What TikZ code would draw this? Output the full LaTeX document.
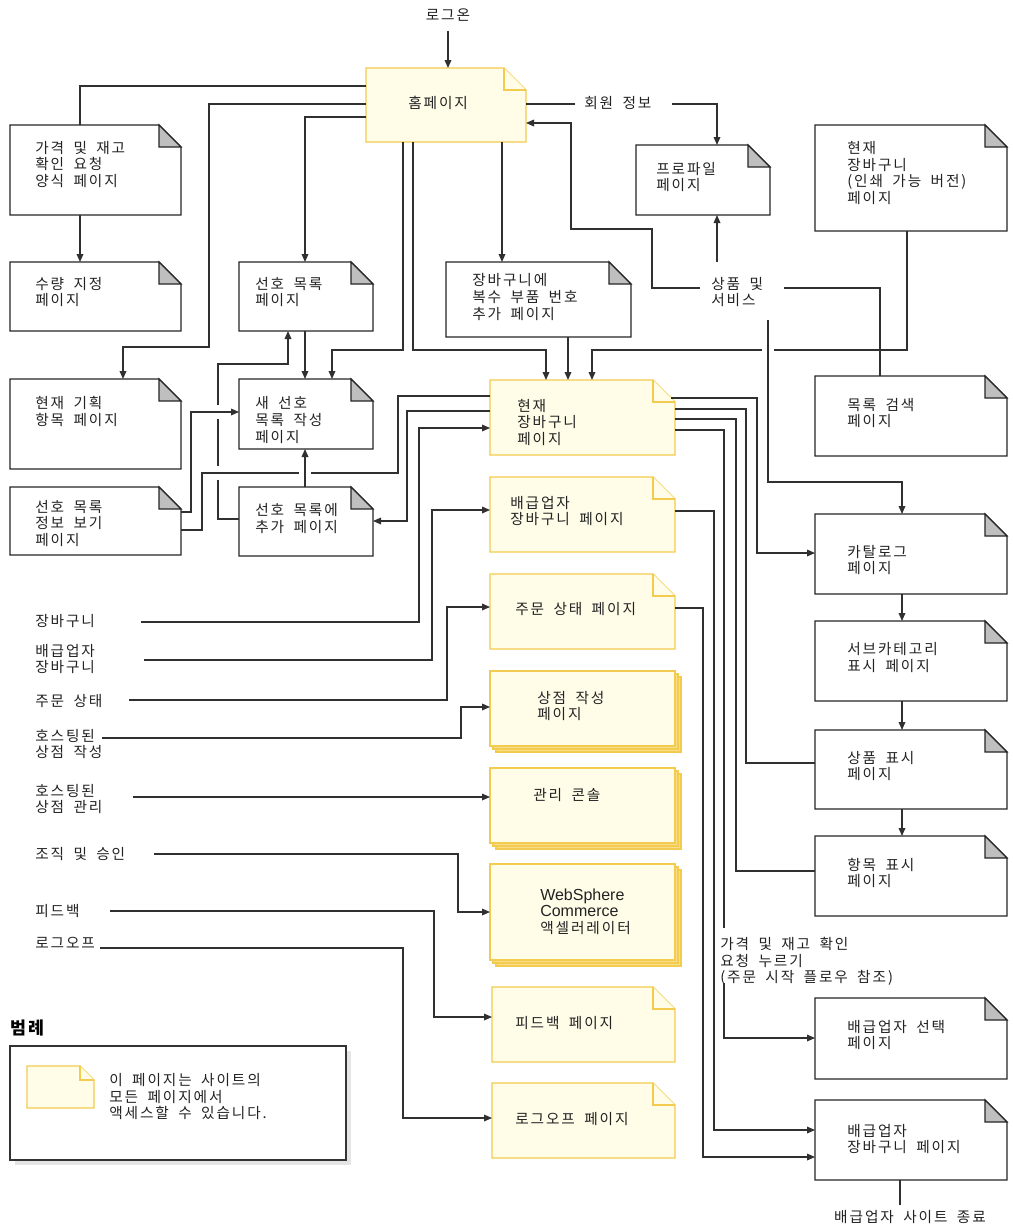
\documentclass[tikz,border=0pt]{standalone}
\usepackage{fontspec}
\setmainfont{Noto Sans CJK KR}[LetterSpace=13,WordSpace=1.8]
\newfontfamily\latf{Liberation Sans}
\usetikzlibrary{arrows.meta}
\definecolor{pyel}{HTML}{FFFCE8}
\definecolor{pyelb}{HTML}{F3CB4E}
\definecolor{pstk}{HTML}{F8DE8A}
\definecolor{pfold}{HTML}{BFBFBF}
\definecolor{ln}{HTML}{303030}
\definecolor{txc}{HTML}{222222}
\def\fsz{16.5pt}
\newcommand\kt{\fontsize{11pt}{12.4pt}\selectfont}
\newcommand\wpage[5]{%
  \node[boxn,minimum width={(#4-#2)*0.75pt},minimum height={(#5-#3)*0.75pt}] (#1) at (#2,#3) {};
  \draw[wbd] (#1.north west) -- ([xshift=-\fsz]#1.north east) -- ([yshift=-\fsz]#1.north east) -- (#1.south east) -- (#1.south west) -- cycle;
  \draw[wfold] ([xshift=-\fsz]#1.north east) -- ([xshift=-\fsz,yshift=-\fsz]#1.north east) -- ([yshift=-\fsz]#1.north east) -- cycle;}
\newcommand\ypage[5]{%
  \node[boxn,minimum width={(#4-#2)*0.75pt},minimum height={(#5-#3)*0.75pt}] (#1) at (#2,#3) {};
  \draw[ybd] (#1.north west) -- ([xshift=-\fsz]#1.north east) -- ([yshift=-\fsz]#1.north east) -- (#1.south east) -- (#1.south west) -- cycle;
  \draw[ybd] ([xshift=-\fsz]#1.north east) -- ([xshift=-\fsz,yshift=-\fsz]#1.north east) -- ([yshift=-\fsz]#1.north east);}
\newcommand\spage[5]{%
  \filldraw[stk] (#2+6,#3+6) rectangle (#4+6,#5+6);
  \filldraw[stk] (#2+3,#3+3) rectangle (#4+3,#5+3);
  \node[boxn,ybd,minimum width={(#4-#2)*0.75pt},minimum height={(#5-#3)*0.75pt}] (#1) at (#2,#3) {};}
\newcommand\gapw[4]{\fill[white] (#1,#2) rectangle (#3,#4);}
\begin{document}
\begin{tikzpicture}[x=0.75pt,y=-0.75pt,
  boxn/.style={inner sep=0pt,outer sep=0pt,anchor=north west,draw=none},
  wbd/.style={draw=black!85,fill=white,line width=0.9pt,line join=miter},
  wfold/.style={draw=black!85,fill=pfold,line width=0.9pt},
  ybd/.style={draw=pyelb,fill=pyel,line width=0.9pt},
  stk/.style={draw=pyelb,fill=pstk,line width=0.8pt},
  tx/.style={inner sep=0pt,align=left,font=\kt,text=txc,anchor=west},
  conn/.style={draw=ln,line width=0.9pt},
  arr/.style={conn,-{Triangle[length=6pt,width=5pt]}}]
\useasboundingbox (0,0) rectangle (1013,1229);
\fill[white] (0,0) rectangle (1013,1229);

% ---------- free labels ----------
\node[tx,anchor=center] (logon) at (448,15) {로그온};
\node[tx] (member) at (584,103) {회원 정보};
\node[tx] (prodsvc) at (711,292) {상품 및\\서비스};
\node[tx] (lcart) at (35,621) {장바구니};
\node[tx] (ldist) at (35,659) {배급업자\\장바구니};
\node[tx] (lorder) at (35,701) {주문 상태};
\node[tx] (lhost1) at (35,744) {호스팅된\\상점 작성};
\node[tx] (lhost2) at (35,799) {호스팅된\\상점 관리};
\node[tx] (lorg) at (35,854) {조직 및 승인};
\node[tx] (lfeed) at (35,911) {피드백};
\node[tx] (llogoff) at (35,943) {로그오프};
\node[tx] (lprice) at (720,961.5) {가격 및 재고 확인\\요청 누르기\\(주문 시작 플로우 참조)};
\node[tx,anchor=center] (lexit) at (910,1217) {배급업자 사이트 종료};

% ---------- boxes ----------
\ypage{home}{366}{68}{526}{142}
\wpage{pricereq}{10}{125}{181}{215}
\wpage{qty}{10}{262}{181}{331}
\wpage{wish}{239}{262}{373}{331}
\wpage{multi}{446}{262}{631}{337}
\wpage{profile}{636}{145}{770}{215}
\wpage{printcart}{815}{125}{1007}{231}
\wpage{plan}{10}{379}{181}{469}
\wpage{newwish}{239}{379}{373}{449}
\wpage{wishinfo}{10}{487}{181}{555}
\wpage{addwish}{239}{487}{373}{556}
\wpage{search}{815}{376}{1007}{456}
\wpage{catalog}{815}{514}{1007}{594}
\wpage{subcat}{815}{621}{1007}{701}
\wpage{prod}{815}{730}{1007}{809}
\wpage{item}{815}{836}{1007}{916}
\wpage{distsel}{815}{998}{1007}{1079}
\wpage{distcart2}{815}{1100}{1007}{1180}
\ypage{cur}{490}{380}{675}{455}
\ypage{distcart}{490}{477}{675}{552}
\ypage{order}{490}{574}{675}{649}
\spage{store}{490}{671}{675}{746}
\spage{admin}{490}{768}{675}{843}
\spage{wca}{490}{864}{675}{960}
\ypage{feedback}{492}{987}{675}{1062}
\ypage{logoff}{492}{1083}{675}{1158}

% legend
\fill[black!10] (15,1051) rectangle (351,1165);
\node[boxn,draw=black!80,fill=white,line width=0.9pt,minimum width={336*0.75pt},minimum height={114*0.75pt}] (legend) at (10,1046) {};
\def\fsz{10.5pt}
\ypage{legpage}{27}{1066}{94}{1108}
\def\fsz{16.5pt}
\node[inner sep=0pt,anchor=west,text=black,font=\fontsize{13pt}{15pt}\selectfont\bfseries] (legtitle) at (10,1028) {범례};
\node[tx] (legtext) at (109,1096.5) {이 페이지는 사이트의\\모든 페이지에서\\액세스할 수 있습니다.};

% box texts
\node[tx] (thome) at (408,103) {홈페이지};
\node[tx] (tpricereq) at (35,164.5) {가격 및 재고\\확인 요청\\양식 페이지};
\node[tx] (tprofile) at (656,177) {프로파일\\페이지};
\node[tx] (tprintcart) at (847,173) {현재\\장바구니\\(인쇄 가능 버전)\\페이지};
\node[tx] (tqty) at (35,292) {수량 지정\\페이지};
\node[tx] (twish) at (255,292) {선호 목록\\페이지};
\node[tx] (tmulti) at (472,297) {장바구니에\\복수 부품 번호\\추가 페이지};
\node[tx] (tplan) at (35,411.5) {현재 기획\\항목 페이지};
\node[tx] (tnewwish) at (255,420) {새 선호\\목록 작성\\페이지};
\node[tx] (tcur) at (517,422.5) {현재\\장바구니\\페이지};
\node[tx] (tsearch) at (847,413) {목록 검색\\페이지};
\node[tx] (twishinfo) at (35,523.5) {선호 목록\\정보 보기\\페이지};
\node[tx] (taddwish) at (255,518.5) {선호 목록에\\추가 페이지};
\node[tx] (tdistcart) at (510,511) {배급업자\\장바구니 페이지};
\node[tx] (tcatalog) at (847,560) {카탈로그\\페이지};
\node[tx] (torder) at (515,609) {주문 상태 페이지};
\node[tx] (tsubcat) at (847,657.5) {서브카테고리\\표시 페이지};
\node[tx] (tstore) at (537,706) {상점 작성\\페이지};
\node[tx] (tprod) at (847,766) {상품 표시\\페이지};
\node[tx] (tadmin) at (533,795) {관리 콘솔};
\node[tx] (titem) at (847,873) {항목 표시\\페이지};
\node[tx] (twca) at (540,911.5) {{\latf\fontsize{12pt}{13.2pt}\selectfont WebSphere}\\{\latf\fontsize{12pt}{13.2pt}\selectfont Commerce}\\액셀러레이터};
\node[tx] (tfeedback) at (515,1023) {피드백 페이지};
\node[tx] (tdistsel) at (847,1035) {배급업자 선택\\페이지};
\node[tx] (tlogoff) at (515,1119) {로그오프 페이지};
\node[tx] (tdistcart2) at (847,1139) {배급업자\\장바구니 페이지};

% ---------- connectors ----------
\draw[arr,shorten <=7pt] (logon.south) -- (logon.south |- home.north);
\draw[conn] (home.west |- 0,86) -- (80,86) -- (pricereq.north -| 80,0);
\draw[arr] (pricereq.south -| 80,0) -- (qty.north -| 80,0);
\draw[arr] (home.west |- 0,104) -- (209,104) -- (209,347) -- (123,347) -- (plan.north -| 123,0);
\draw[arr] (home.west |- 0,117) -- (305,117) -- (wish.north -| 305,0);
\draw[arr] (home.south -| 403,0) -- (403,350) -- (332,350) -- (newwish.north -| 332,0);
\draw[arr] (home.south -| 413,0) -- (413,350) -- (546,350) -- (cur.north -| 546,0);
\draw[arr] (home.south -| 502,0) -- (multi.north -| 502,0);
\draw[arr] (multi.south -| 568,0) -- (cur.north -| 568,0);
\draw[conn] (home.east |- 0,104) -- (575,104);
\draw[arr] (672,104) -- (717,104) -- (profile.north -| 717,0);
\draw[arr] (717,262) -- (profile.south -| 717,0);
\draw[arr] (700,288) -- (652,288) -- (652,229) -- (571,229) -- (571,123) -- (home.east |- 0,123);
\draw[conn] (784,288) -- (880,288) -- (search.north -| 880,0);
\draw[arr] (printcart.south -| 907,0) -- (907,350) -- (592,350) -- (cur.north -| 592,0);
\gapw{762}{346}{774}{354}
\draw[arr] (768,320) -- (768,482) -- (902,482) -- (catalog.north -| 902,0);
\draw[arr] (wish.south -| 305,0) -- (newwish.north -| 305,0);
\draw[arr] (addwish.west |- 0,519) -- (218,519) -- (218,364) -- (288,364) -- (wish.south -| 288,0);
\gapw{214}{405}{222}{419}
\gapw{214}{466}{222}{480}
\draw[arr] (wishinfo.east |- 0,512) -- (191,512) -- (191,412) -- (newwish.west |- 0,412);
\draw[conn] (wishinfo.east |- 0,530) -- (202,530) -- (202,473) -- (398,473) -- (398,396) -- (cur.west |- 0,396);
\gapw{299}{469}{311}{477}
\draw[arr] (addwish.north -| 305,0) -- (newwish.south -| 305,0);
\draw[arr] (cur.west |- 0,411) -- (407,411) -- (407,521) -- (addwish.east |- 0,521);
\draw[arr] (141,622) -- (419,622) -- (419,428) -- (cur.west |- 0,428);
\draw[arr] (144,660) -- (432,660) -- (432,510) -- (distcart.west |- 0,510);
\draw[arr] (129,700) -- (447,700) -- (447,607) -- (order.west |- 0,607);
\draw[arr] (102,738) -- (461,738) -- (461,707) -- (store.west |- 0,707);
\draw[arr] (133,797) -- (admin.west |- 0,797);
\draw[arr] (154,854) -- (458,854) -- (458,912) -- (wca.west |- 0,912);
\draw[arr] (110,911) -- (434,911) -- (434,1017) -- (feedback.west |- 0,1017);
\draw[arr] (100,948) -- (403,948) -- (403,1118) -- (logoff.west |- 0,1118);
\draw[arr] (671,398) -- (757,398) -- (757,553) -- (catalog.west |- 0,553);
\draw[conn] (cur.east |- 0,409) -- (746,409) -- (746,763) -- (prod.west |- 0,763);
\draw[conn] (cur.east |- 0,419) -- (736,419) -- (736,871) -- (item.west |- 0,871);
\draw[conn] (cur.east |- 0,430) -- (724,430) -- (724,928);
\draw[arr] (724,983) -- (724,1038) -- (distsel.west |- 0,1038);
\draw[arr] (distcart.east |- 0,511) -- (714,511) -- (714,1130) -- (distcart2.west |- 0,1130);
\draw[arr] (order.east |- 0,608) -- (703,608) -- (703,1157) -- (distcart2.west |- 0,1157);
\draw[arr] (catalog.south -| 902,0) -- (subcat.north -| 902,0);
\draw[arr] (subcat.south -| 902,0) -- (prod.north -| 902,0);
\draw[arr] (prod.south -| 902,0) -- (item.north -| 902,0);
\draw[conn] (distcart2.south -| 900,0) -- (900,1205);
\end{tikzpicture}
\end{document}
